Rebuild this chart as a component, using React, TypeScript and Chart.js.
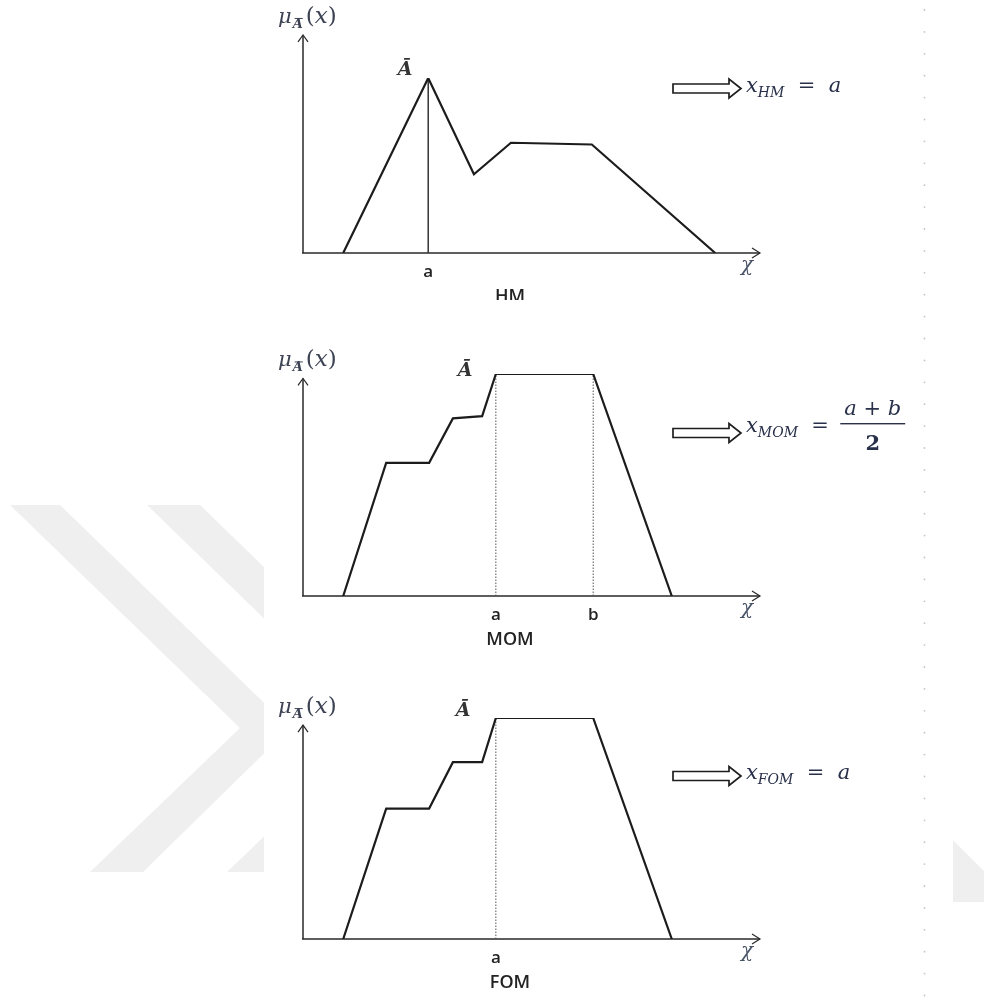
import React, { useEffect, useRef } from "react";
import { Chart, registerables } from "chart.js";

Chart.register(...registerables);

// Membership function vertices: x on a 0–10 universe, y = membership degree
const hmX = [0.88, 2.74, 3.74, 4.55, 6.32, 9.02];
const hmY = [0, 1, 0.45, 0.63, 0.62, 0];
const momX = [0.88, 1.82, 2.76, 3.28, 3.92, 4.22, 6.35, 8.07];
const momY = [0, 0.6, 0.6, 0.8, 0.81, 1, 1, 0];
const fomX = [0.88, 1.82, 2.76, 3.28, 3.92, 4.22, 6.35, 8.07];
const fomY = [0, 0.59, 0.59, 0.8, 0.8, 1, 1, 0];

// Defuzzified positions marked on the x axis
const hmMarks = [2.74];
const hmMarkLabels = ["a"];
const momMarks = [4.22, 6.35];
const momMarkLabels = ["a", "b"];
const fomMarks = [4.22];
const fomMarkLabels = ["a"];

const methodNames = ["HM", "MOM", "FOM"];

type Pad = { left: number; right: number; top: number; bottom: number };
type PanelSpec = {
  name: string;
  xs: number[];
  ys: number[];
  marks: number[];
  markLabels: string[];
  dotted: boolean;
  top: number;
  height: number;
  pad: Pad;
  yTip: number;
  barLabel: [number, number];
  arrowY: number;
  formulaBase: number;
};

const CANVAS_LEFT = 260;
const CANVAS_W = 700;

const panels: PanelSpec[] = [
  {
    name: methodNames[0], xs: hmX, ys: hmY, marks: hmMarks, markLabels: hmMarkLabels,
    dotted: false, top: 0, height: 300,
    pad: { left: 43, right: 200, top: 78, bottom: 47 },
    yTip: 1.246, barLabel: [145, 75], arrowY: 88.5, formulaBase: 92,
  },
  {
    name: methodNames[1], xs: momX, ys: momY, marks: momMarks, markLabels: momMarkLabels,
    dotted: true, top: 300, height: 360,
    pad: { left: 43, right: 200, top: 74, bottom: 64 },
    yTip: 0.98, barLabel: [205, 76], arrowY: 133, formulaBase: 132,
  },
  {
    name: methodNames[2], xs: fomX, ys: fomY, marks: fomMarks, markLabels: fomMarkLabels,
    dotted: true, top: 660, height: 341,
    pad: { left: 43, right: 200, top: 58, bottom: 62 },
    yTip: 0.968, barLabel: [203, 56], arrowY: 116, formulaBase: 119,
  },
];

const SERIF = '"DejaVu Serif", "Liberation Serif", serif';
const SANS = '"Open Sans", "Liberation Sans", sans-serif';
const MATH_INK = "#28304a";

function interp(xs: number[], ys: number[], v: number): number {
  for (let i = 0; i < xs.length - 1; i++) {
    if (v >= xs[i] && v <= xs[i + 1]) {
      const t = (v - xs[i]) / (xs[i + 1] - xs[i] || 1);
      return ys[i] + t * (ys[i + 1] - ys[i]);
    }
  }
  return 0;
}

type Part = { t: string; font: string; dy?: number };
function drawRun(ctx: CanvasRenderingContext2D, parts: Part[], x: number, y: number): number {
  for (const p of parts) {
    ctx.font = p.font;
    ctx.fillText(p.t, x, y + (p.dy || 0));
    x += ctx.measureText(p.t).width;
  }
  return x;
}
function runWidth(ctx: CanvasRenderingContext2D, parts: Part[]): number {
  let w = 0;
  for (const p of parts) {
    ctx.font = p.font;
    w += ctx.measureText(p.t).width;
  }
  return w;
}

function hollowArrow(ctx: CanvasRenderingContext2D, x1: number, x2: number, cy: number) {
  const bh = 4.5, hh = 9.5, hl = 12;
  ctx.save();
  ctx.beginPath();
  ctx.moveTo(x1, cy - bh);
  ctx.lineTo(x2 - hl, cy - bh);
  ctx.lineTo(x2 - hl, cy - hh);
  ctx.lineTo(x2, cy);
  ctx.lineTo(x2 - hl, cy + hh);
  ctx.lineTo(x2 - hl, cy + bh);
  ctx.lineTo(x1, cy + bh);
  ctx.closePath();
  ctx.fillStyle = "#fff";
  ctx.fill();
  ctx.strokeStyle = "#1e1e1e";
  ctx.lineWidth = 1.7;
  ctx.lineJoin = "miter";
  ctx.stroke();
  ctx.restore();
}

function drawFormula(ctx: CanvasRenderingContext2D, name: string, x: number, base: number) {
  const big = `italic 21px ${SERIF}`;
  const up = `21px ${SERIF}`;
  const sub = `italic 14px ${SERIF}`;
  ctx.save();
  ctx.fillStyle = MATH_INK;
  ctx.textBaseline = "alphabetic";
  ctx.textAlign = "left";
  const cx = drawRun(ctx, [{ t: "x", font: big }, { t: name, font: sub, dy: 5 }, { t: "  =  ", font: up }], x, base);
  if (name === "MOM") {
    const num: Part[] = [{ t: "a", font: big }, { t: " + ", font: up }, { t: "b", font: big }];
    const nw = runWidth(ctx, num);
    const barW = nw + 8;
    const barX = cx - 2;
    drawRun(ctx, num, barX + (barW - nw) / 2, base - 17);
    ctx.fillRect(barX, base - 9, barW, 1.4);
    ctx.font = `bold 21px ${SERIF}`;
    ctx.textAlign = "center";
    ctx.fillText("2", barX + barW / 2, base + 18);
  } else {
    drawRun(ctx, [{ t: "a", font: big }], cx, base);
  }
  ctx.restore();
}

function makeDecor(p: PanelSpec) {
  return {
    id: "fuzzyDecor" + p.name,
    beforeDatasetsDraw(chart: any) {
      const { ctx } = chart;
      const xs = chart.scales.x;
      const ys = chart.scales.y;
      const x0 = xs.getPixelForValue(0);
      const y0 = ys.getPixelForValue(0);
      const xEnd = xs.getPixelForValue(10);
      const yTop = ys.getPixelForValue(p.yTip);
      ctx.save();
      ctx.lineCap = "butt";
      // axes
      ctx.strokeStyle = "#2a2a2a";
      ctx.lineWidth = 1.5;
      ctx.beginPath();
      ctx.moveTo(x0, y0);
      ctx.lineTo(x0, yTop);
      ctx.moveTo(x0 - 1, y0);
      ctx.lineTo(xEnd, y0);
      ctx.stroke();
      ctx.lineWidth = 1.2;
      ctx.beginPath();
      ctx.moveTo(x0 - 5, yTop + 7);
      ctx.lineTo(x0, yTop);
      ctx.lineTo(x0 + 5, yTop + 7);
      ctx.moveTo(xEnd - 8, y0 - 5);
      ctx.lineTo(xEnd, y0);
      ctx.lineTo(xEnd - 8, y0 + 5);
      ctx.stroke();

      // marks from the axis up to the membership curve
      p.marks.forEach((m, i) => {
        const mx = xs.getPixelForValue(m);
        const my = ys.getPixelForValue(interp(p.xs, p.ys, m));
        ctx.save();
        if (p.dotted) {
          ctx.strokeStyle = "#555";
          ctx.lineWidth = 1;
          ctx.setLineDash([1.5, 1.5]);
        } else {
          ctx.strokeStyle = "#333";
          ctx.lineWidth = 1.5;
        }
        ctx.beginPath();
        ctx.moveTo(mx, y0);
        ctx.lineTo(mx, my);
        ctx.stroke();
        ctx.restore();
        ctx.fillStyle = "#222";
        ctx.font = `600 17px ${SANS}`;
        ctx.textAlign = "center";
        ctx.textBaseline = "alphabetic";
        ctx.fillText(p.markLabels[i], mx, y0 + 24);
      });

      // method name under the axis
      ctx.fillStyle = "#222";
      ctx.font = `600 18px ${SANS}`;
      ctx.textAlign = "center";
      ctx.textBaseline = "middle";
      ctx.fillText(p.name, 250, y0 + 44);

      // universe symbol
      ctx.fillStyle = "#4a5468";
      ctx.font = `italic 20px ${SERIF}`;
      ctx.fillText("\u03c7", xEnd - 13, y0 + 13);

      // membership label
      ctx.textAlign = "left";
      ctx.textBaseline = "alphabetic";
      const lx = x0 - 25;
      const lb = yTop - 12;
      ctx.fillStyle = "#3d4354";
      let cx = drawRun(ctx, [{ t: "\u03bc", font: `italic 21px ${SERIF}` }], lx, lb);
      ctx.font = `italic bold 13px ${SERIF}`;
      ctx.fillText("A", cx + 1, lb + 5);
      const aw = ctx.measureText("A").width;
      ctx.fillRect(cx + 3, lb - 5, aw - 2, 1);
      cx += aw + 4;
      drawRun(ctx, [
        { t: "(", font: `23px ${SERIF}` },
        { t: "x", font: `italic 23px ${SERIF}` },
        { t: ")", font: `23px ${SERIF}` },
      ], cx, lb);

      // fuzzy set name
      ctx.fillStyle = "#333";
      ctx.font = `italic bold 19px ${SERIF}`;
      ctx.textAlign = "center";
      ctx.fillText("\u0100", p.barLabel[0], p.barLabel[1]);

      // defuzzified result
      hollowArrow(ctx, 413, 481, p.arrowY);
      drawFormula(ctx, p.name, 486, p.formulaBase);
      ctx.restore();
    },
  };
}

function Panel({ spec }: { spec: PanelSpec }) {
  const ref = useRef<HTMLCanvasElement | null>(null);
  useEffect(() => {
    if (!ref.current) return;
    const chart = new Chart(ref.current, {
      type: "line",
      data: {
        datasets: [
          {
            data: spec.xs.map((x, i) => ({ x, y: spec.ys[i] })),
            borderColor: "#1c1c1c",
            borderWidth: 2.2,
            pointRadius: 0,
            tension: 0,
            fill: false,
          },
        ],
      },
      options: {
        animation: false,
        responsive: false,
        maintainAspectRatio: false,
        layout: { padding: spec.pad },
        scales: {
          x: { type: "linear", min: 0, max: 10, display: false },
          y: { type: "linear", min: 0, max: 1, display: false },
        },
        plugins: { legend: { display: false }, tooltip: { enabled: false } },
        events: [],
      },
      plugins: [makeDecor(spec)],
    } as any);
    return () => chart.destroy();
  }, [spec]);
  return (
    <canvas
      ref={ref}
      width={CANVAS_W}
      height={spec.height}
      style={{ position: "absolute", left: CANVAS_LEFT, top: spec.top, width: CANVAS_W, height: spec.height }}
    />
  );
}

function Backdrop() {
  const dots: number[] = [];
  for (let y = 10; y < 1001; y += 21.9) dots.push(y);
  return (
    <svg width={984} height={1001} style={{ position: "absolute", left: 0, top: 0 }}>
      <defs>
        <clipPath id="leftSide">
          <rect x={0} y={0} width={264} height={1001} />
        </clipPath>
      </defs>
      <g clipPath="url(#leftSide)" fill="#efefef">
        <polygon points="10,505 60,505 290,728 143,872 90,872 240,728" />
        <polygon points="147,505 200,505 430,728 280,872 227,872 377,728" />
      </g>
      <polygon points="953,840 984,871 984,902 953,902" fill="#efefef" />
      {dots.map((y, i) => (
        <circle key={i} cx={924.5} cy={y} r={0.9} fill="#c4c4c4" />
      ))}
    </svg>
  );
}

export default function App() {
  return (
    <div style={{ position: "absolute", left: 0, top: 0, width: 984, height: 1001, background: "#fff", overflow: "hidden" }}>
      <Backdrop />
      {panels.map((p) => (
        <Panel key={p.name} spec={p} />
      ))}
    </div>
  );
}
